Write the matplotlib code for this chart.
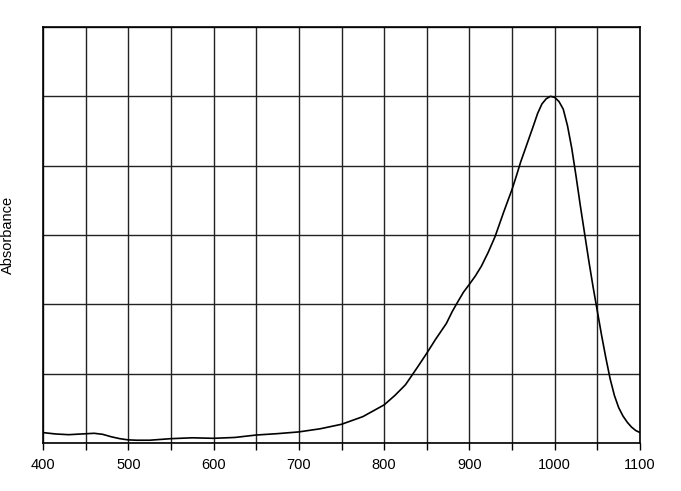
import matplotlib.pyplot as plt
import numpy as np

plt.rcParams['font.family'] = ['Liberation Sans', 'DejaVu Sans']

# wavelength (nm) and absorbance
wavelength = [400, 415, 430, 445, 460, 470, 480, 490, 500, 510, 525, 550, 575,
              600, 625, 650, 675, 700, 725, 750, 775, 800, 812.5, 825, 832,
              840, 850, 860, 873, 880, 887, 893, 900, 907, 914, 922, 930, 940,
              950, 955, 960, 965, 970, 975, 980, 985, 990, 995, 1000, 1005,
              1010, 1015, 1020, 1025, 1030, 1035, 1040, 1045, 1050, 1055, 1060,
              1065, 1070, 1075, 1080, 1085, 1090, 1095, 1100]
absorbance = [0.030, 0.026, 0.024, 0.026, 0.028, 0.025, 0.018, 0.0125, 0.009,
              0.008, 0.008, 0.0125, 0.015, 0.0135, 0.016, 0.023, 0.027, 0.032,
              0.041, 0.054, 0.076, 0.110, 0.137, 0.168, 0.193, 0.222, 0.259,
              0.298, 0.345, 0.380, 0.410, 0.435, 0.458, 0.482, 0.510, 0.550,
              0.595, 0.665, 0.732, 0.770, 0.810, 0.845, 0.880, 0.915, 0.951,
              0.978, 0.993, 1.000, 0.997, 0.985, 0.963, 0.915, 0.850, 0.770,
              0.685, 0.605, 0.525, 0.450, 0.380, 0.310, 0.245, 0.185, 0.137,
              0.102, 0.078, 0.060, 0.046, 0.036, 0.030]

xticks = np.arange(400, 1101, 50)
xlabels = [str(v) if v % 100 == 0 else '' for v in xticks]
yticks = np.arange(0, 1.21, 0.2)

fig = plt.figure(figsize=(6.81, 4.91), dpi=100)
ax = fig.add_axes([43 / 681, 48 / 491, 597 / 681, 416 / 491])

ax.plot(wavelength, absorbance, color='black', linewidth=1.2,
        solid_joinstyle='round')

ax.set_xlim(400, 1100)
ax.set_ylim(0, 1.2)
ax.set_xticks(xticks)
ax.set_xticklabels(xlabels, fontsize=10.5)
ax.set_yticks(yticks)
ax.set_yticklabels([])
ax.tick_params(axis='x', direction='out', length=5, width=1, color='black', pad=6)
ax.tick_params(axis='y', length=0)
ax.grid(True, color='#222222', linewidth=1)
ax.set_axisbelow(True)
for s in ax.spines.values():
    s.set_color('black')
    s.set_linewidth(1.2)

ax.set_ylabel('Absorbance', fontsize=10.5, labelpad=17)

fig.savefig('out.png', dpi=100)
